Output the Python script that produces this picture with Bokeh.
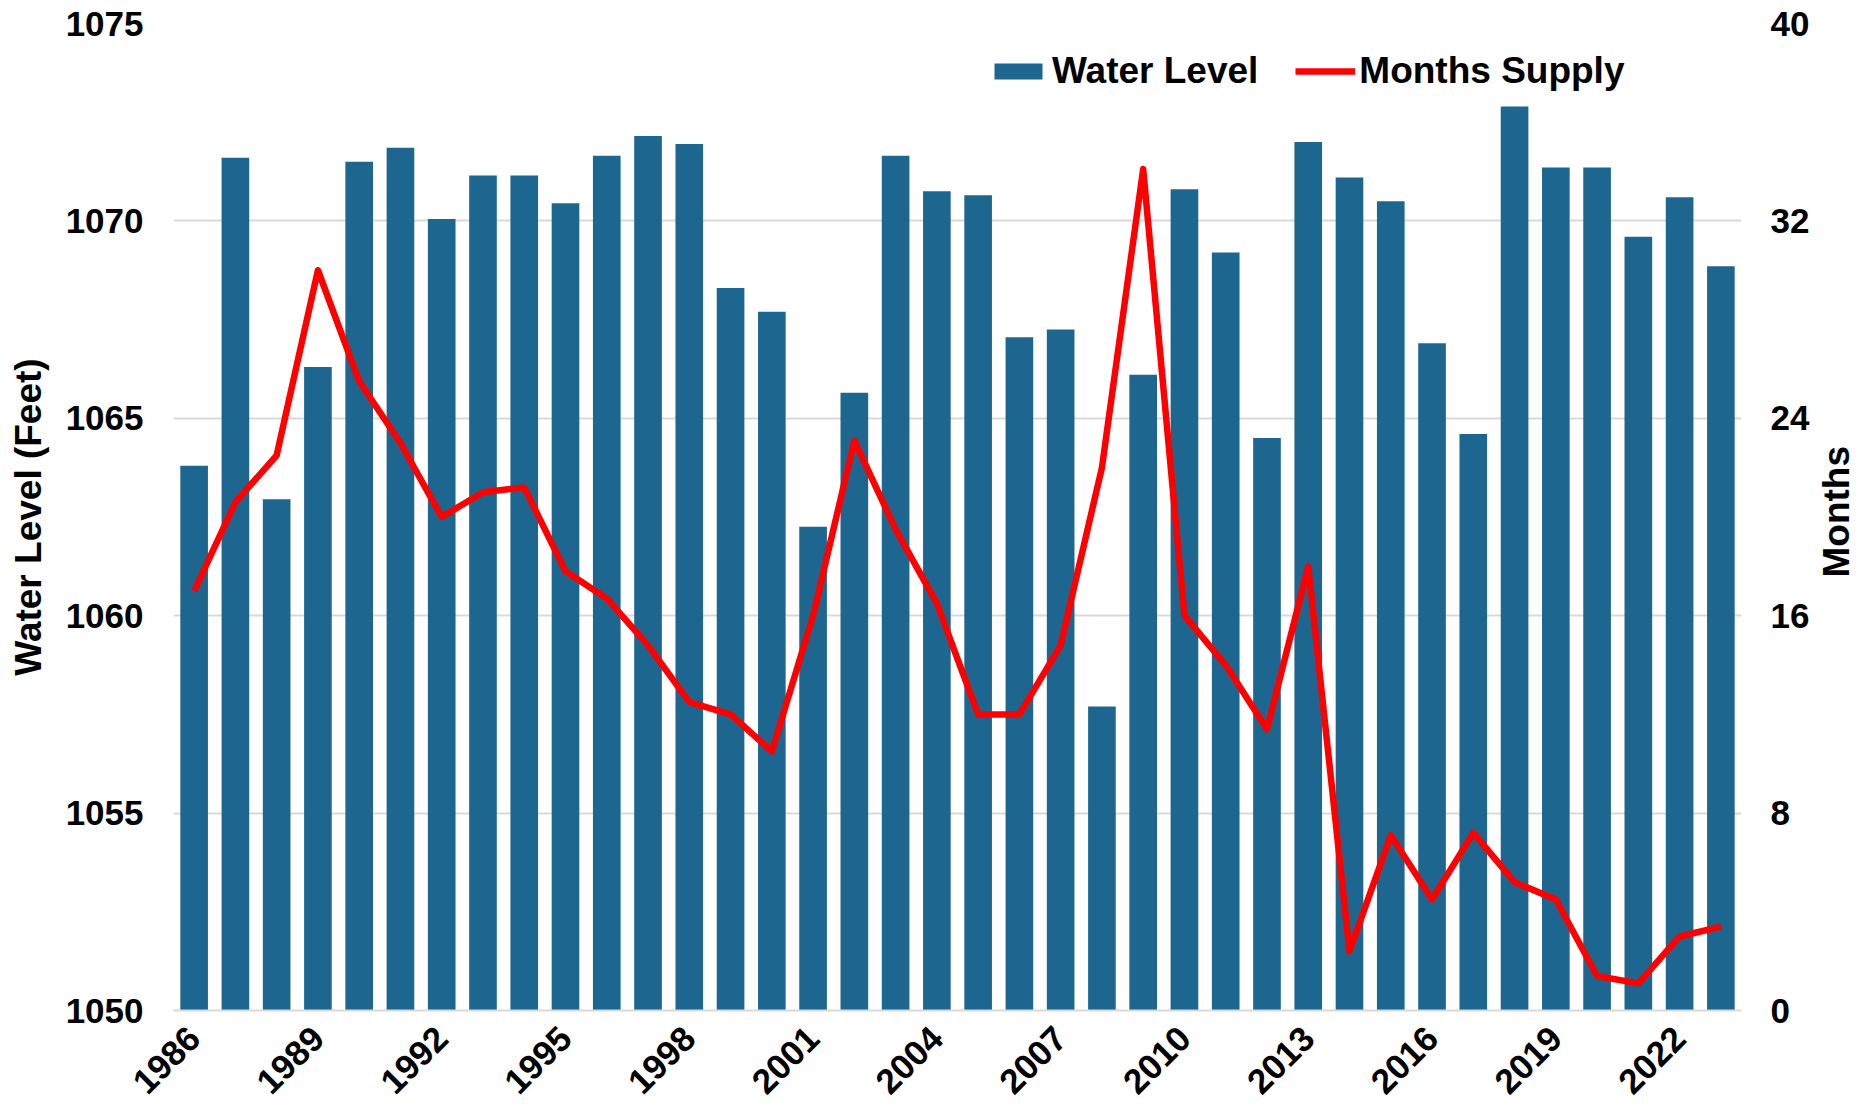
import math
from bokeh.plotting import figure
from bokeh.layouts import row
from bokeh.models import Range1d, LinearAxis, FixedTicker, Legend, LegendItem, ColumnDataSource
from bokeh.core.properties import value
from bokeh.embed import file_html
from bokeh.resources import INLINE

years = list(range(1986, 2024))
water_level = [1063.8, 1071.6, 1062.95, 1066.3, 1071.5, 1071.85, 1070.05, 1071.15, 1071.15, 1070.45,
               1071.65, 1072.15, 1071.95, 1068.3, 1067.7, 1062.25, 1065.65, 1071.65, 1070.75, 1070.65,
               1067.05, 1067.25, 1057.7, 1066.1, 1070.8, 1069.2, 1064.5, 1072.0, 1071.1, 1070.5,
               1066.9, 1064.6, 1072.9, 1071.35, 1071.35, 1069.6, 1070.6, 1068.85]
months_supply = [17.0, 20.6, 22.5, 30.0, 25.5, 23.0, 20.0, 21.0, 21.2, 17.8,
                 16.7, 14.8, 12.5, 12.0, 10.5, 16.0, 23.1, 19.5, 16.5, 12.0,
                 12.0, 14.8, 22.0, 34.1, 16.0, 14.0, 11.4, 18.0, 2.4, 7.1,
                 4.5, 7.2, 5.2, 4.5, 1.4, 1.1, 3.0, 3.4]
x_tick_years = list(range(1986, 2023, 3))
left_ticks = [1050, 1055, 1060, 1065, 1070, 1075]
right_ticks = [0, 8, 16, 24, 32, 40]

FONT = "Liberation Sans"
BAR = "#1d6690"
GRID = "#d9d9d9"

p = figure(frame_width=1568, frame_height=987, output_backend="svg", toolbar_location=None,
           x_range=Range1d(1985.5, 2023.5), y_range=Range1d(1050, 1075),
           min_border_left=173, min_border_right=70, min_border_top=23, min_border_bottom=90)
p.extra_y_ranges = {"months": Range1d(0, 40)}
p.outline_line_color = None

src = ColumnDataSource(dict(year=years, level=water_level, months=months_supply))
bars = p.vbar(x="year", top="level", bottom=1050, width=0.67, source=src,
              fill_color=BAR, line_color=None)
line = p.line(x="year", y="months", source=src, y_range_name="months",
              line_color="#ff0000", line_width=6.5, line_join="round")

right = LinearAxis(y_range_name="months")
p.add_layout(right, "right")


def style(ax):
    ax.axis_line_color = None
    ax.major_tick_line_color = None
    ax.minor_tick_line_color = None
    ax.major_tick_out = 0
    ax.major_tick_in = 0
    ax.minor_tick_out = 0
    ax.major_label_text_font = FONT
    ax.major_label_text_font_size = "35px"
    ax.major_label_text_font_style = "bold"
    ax.major_label_text_color = "black"
    ax.axis_label_text_font = FONT
    ax.axis_label_text_font_size = "37px"
    ax.axis_label_text_font_style = "bold"
    ax.axis_label_text_color = "black"


xa = p.xaxis[0]
ya = p.yaxis[0]
for ax in (xa, ya, right):
    style(ax)

xa.ticker = FixedTicker(ticks=x_tick_years)
xa.major_label_orientation = math.pi / 4
xa.major_label_standoff = 22
xa.axis_line_color = GRID
xa.axis_line_width = 2

ya.ticker = FixedTicker(ticks=left_ticks)
ya.major_label_standoff = 30
ya.axis_label = "Water Level (Feet)"
ya.axis_label_standoff = 14

right.ticker = FixedTicker(ticks=right_ticks)
right.major_label_standoff = 29

p.xgrid.grid_line_color = None
p.ygrid.grid_line_color = GRID
p.ygrid.grid_line_width = 2
p.ygrid.ticker = FixedTicker(ticks=left_ticks)

legend = Legend(items=[LegendItem(label="Water Level", renderers=[bars]),
                       LegendItem(label="Months Supply", renderers=[line])],
                orientation="horizontal", location=(815, 918),
                padding=0, margin=0, spacing=37, label_standoff=4,
                glyph_width=60, glyph_height=20,
                label_text_font=FONT, label_text_font_size="37px",
                label_text_font_style="bold", label_text_color="black",
                background_fill_alpha=0, border_line_alpha=0)
p.add_layout(legend, "center")

# narrow companion figure that carries the right-hand axis title, reading bottom-to-top
t = figure(width=50, height=1100, output_backend="svg", toolbar_location=None,
           x_range=Range1d(0, 50), y_range=Range1d(0, 1100),
           x_axis_location=None, y_axis_location=None,
           min_border_left=0, min_border_right=0, min_border_top=0, min_border_bottom=0)
t.outline_line_color = None
t.grid.visible = False
t.text(x=[24], y=[552], text=["Months"], angle=math.pi / 2, text_align="center",
       text_baseline="middle", text_font=value(FONT), text_font_size="37px",
       text_font_style="bold", text_color="black")

layout = row(p, t)
open("out.html", "w").write(file_html(layout, INLINE))
